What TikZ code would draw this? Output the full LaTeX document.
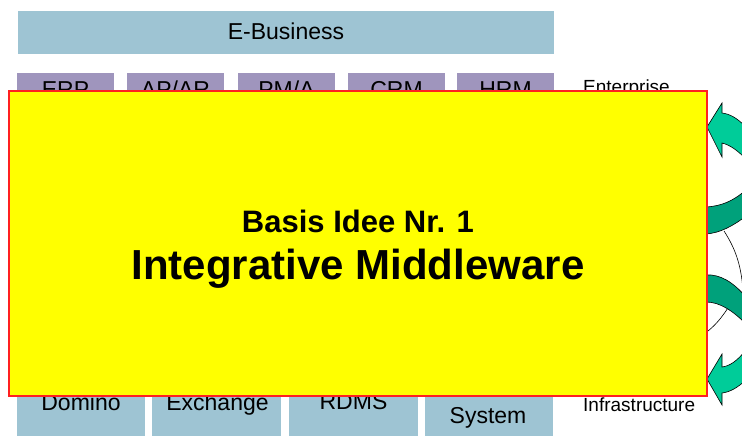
\documentclass[tikz,border=0pt]{standalone}
\usepackage{fontspec}
\setmainfont{Liberation Sans}
\definecolor{ebiz}{HTML}{9EC4D3}
\definecolor{appc}{HTML}{9F95BD}
\definecolor{lgreen}{HTML}{00CC99}
\definecolor{dgreen}{HTML}{00A17B}
\definecolor{ybox}{HTML}{FFFF00}
\definecolor{rbox}{HTML}{FF2020}
\begin{document}
\begin{tikzpicture}[x=1pt,y=-1pt,
  box/.style={inner sep=0pt, outer sep=0pt, draw=none},
  bluebox/.style={box, fill=ebiz},
  appbox/.style={box, fill=appc, minimum width=97pt, minimum height=40pt},
  lowbox/.style={box, fill=ebiz, minimum height=71pt},
  lbl/.style={font=\fontsize{23}{27}\selectfont, inner sep=0pt, anchor=base},
  side/.style={font=\fontsize{19}{22}\selectfont, inner sep=0pt, anchor=base west},
  cyc/.style={draw=black, line width=0.6pt},
  thin/.style={draw=black, line width=0.6pt}]
\useasboundingbox (0,0) rectangle (742,436);

% top bar
\node[bluebox, minimum width=536pt, minimum height=43pt] (ebizbox) at (286,32.5) {};
\node[lbl] (ebiztxt) at (286,40) {E-Business};

% application row
\node[appbox] (erp) at (65.5,93) {};
\node[appbox] (apar) at (175.5,93) {};
\node[appbox] (pma) at (286.5,93) {};
\node[appbox] (crm) at (396.5,93) {};
\node[appbox] (hrm) at (505.5,93) {};
\node[lbl] (erpt) at (65.5,98) {ERP};
\node[lbl] (apart) at (175.5,98) {AP/AR};
\node[lbl] (pmat) at (286.5,98) {PM/A};
\node[lbl] (crmt) at (396.5,98) {CRM};
\node[lbl] (hrmt) at (505.5,98) {HRM};

% infrastructure row
\node[lowbox, minimum width=128pt] (dom) at (81,400.5) {};
\node[lowbox, minimum width=129pt] (exc) at (216.5,400.5) {};
\node[lowbox, minimum width=129pt] (rdms) at (353.5,400.5) {};
\node[lowbox, minimum width=128pt] (sys) at (489,400.5) {};
\node[lbl] (domt) at (81,410) {Domino};
\node[lbl] (exct) at (217.5,410) {Exchange};
\node[lbl] (rdmst) at (353.5,409) {RDMS};
\node[lbl] (syst) at (488,423) {System};

% side labels
\node[side] (ent) at (583,94) {Enterprise};
\node[side] (inf) at (583,411) {Infrastructure};

% cycle arrows (cut by the picture edge)
\begin{scope}
\clip (0,0) rectangle (742,436);
\draw[thin] (724,231) .. controls (735,248) and (741,264) .. (743,290);
\draw[thin] (704,334) .. controls (714,327) and (722,318) .. (731,303);
\path[cyc, fill=lgreen] (707,127) -- (722,103) -- (722,113)
   .. controls (730,114) and (737,118) .. (746,127) -- (746,159)
   .. controls (737,150) and (730,145) .. (722,143) -- (722,157) -- cycle;
\path[cyc, fill=dgreen] (695,207) -- (706,207) .. controls (722,206) and (733,201) .. (746,190)
   -- (746,216) .. controls (733,226) and (720,233) .. (706,234) -- (695,234) -- cycle;
\path[cyc, fill=dgreen] (695,275) -- (706,275) .. controls (720,274) and (733,282) .. (746,297)
   -- (746,324) .. controls (733,311) and (720,302) .. (706,302) -- (695,302) -- cycle;
\path[cyc, fill=lgreen] (707,379) -- (722,354) -- (722,367)
   .. controls (730,366) and (737,361) .. (746,350) -- (746,380)
   .. controls (737,388) and (730,392) .. (722,393) -- (722,405) -- cycle;
\end{scope}

% overlay box
\node[box, fill=ybox, draw=rbox, line width=1.5pt, minimum width=698pt, minimum height=305pt] (mw) at (358,243.5) {};
\node[font=\bfseries\fontsize{31}{35}\selectfont, inner sep=0pt, anchor=base] (t1) at (358,232) {Basis Idee Nr. 1};
\node[font=\bfseries\fontsize{42}{48}\selectfont, inner sep=0pt, anchor=base] (t2) at (358,279) {Integrative Middleware};
\end{tikzpicture}
\end{document}
